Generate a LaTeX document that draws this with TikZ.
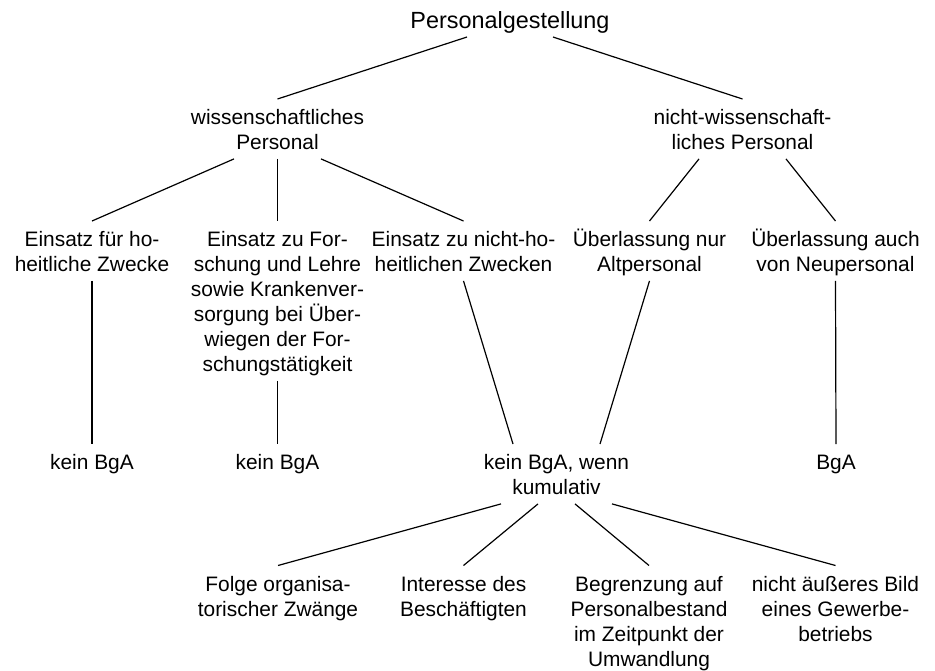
\documentclass[tikz,border=0pt]{standalone}
\usepackage{fontspec}
\setmainfont{Liberation Sans}
\newcommand{\tstr}{\rule{0pt}{24pt}}
\begin{document}
\begin{tikzpicture}[x=1pt,y=-1pt,
  lbl/.style={font=\fontsize{20.9}{25}\selectfont, align=center, inner xsep=0pt, inner ysep=1.5pt, anchor=north,
    execute at end node={\rule[-7.5pt]{0pt}{7.5pt}}},
  ttl/.style={font=\fontsize{23.4}{28}\selectfont, inner sep=0pt, anchor=base},
  conn/.style={line width=1.2pt}]
\fill[white] (0,0) rectangle (935,670);
\useasboundingbox (0,0) rectangle (935,670);
\node[ttl] (t) at (510,28) {Personalgestellung};
\node[lbl] (w) at (277.5,99) {\tstr wissenschaftliches\\Personal};
\node[lbl] (n) at (742.5,99) {\tstr nicht-wissenschaft-\\liches Personal};
\node[lbl] (c1) at (92,221) {\tstr Einsatz für ho-\\heitliche Zwecke};
\node[lbl] (c2) at (277.5,221) {\tstr Einsatz zu For-\\schung und Lehre\\sowie Krankenver-\\sorgung bei Über-\\wiegen der For-\\schungstätigkeit};
\node[lbl] (c3) at (463.5,221) {\tstr Einsatz zu nicht-ho-\\heitlichen Zwecken};
\node[lbl] (c4) at (649.5,221) {\tstr Überlassung nur\\Altpersonal};
\node[lbl] (c5) at (835.5,221) {\tstr Überlassung auch\\von Neupersonal};
\node[lbl] (k1) at (92,444) {\tstr kein BgA};
\node[lbl] (k2) at (277.5,444) {\tstr kein BgA};
\node[lbl] (k3) at (556.5,444) {\tstr kein BgA, wenn\\kumulativ};
\node[lbl] (k4) at (836,444) {\tstr BgA};
\node[lbl] (f1) at (278,565.5) {\tstr Folge organisa-\\torischer Zwänge};
\node[lbl] (f2) at (463.5,565.5) {\tstr Interesse des\\Beschäftigten};
\node[lbl] (f3) at (649,565.5) {\tstr Begrenzung auf\\Personalbestand\\im Zeitpunkt der\\Umwandlung};
\node[lbl] (f4) at (835.5,565.5) {\tstr nicht äußeres Bild\\eines Gewerbe-\\betriebs};
\draw[conn] ([xshift=-43pt,yshift=-9pt]t.base) -- (w.north);
\draw[conn] ([xshift=43pt,yshift=-9pt]t.base) -- (n.north);
\draw[conn] ([xshift=-43.5pt]w.south) -- (c1.north);
\draw[conn] (w.south) -- (c2.north);
\draw[conn] ([xshift=43.5pt]w.south) -- (c3.north);
\draw[conn] ([xshift=-43.5pt]n.south) -- (c4.north);
\draw[conn] ([xshift=43.5pt]n.south) -- (c5.north);
\draw[conn] (c1.south) -- (k1.north);
\draw[conn] (c2.south) -- (k2.north);
\draw[conn] (c5.south) -- (k4.north);
\draw[conn] (c3.south) -- ([xshift=-43.5pt]k3.north);
\draw[conn] (c4.south) -- ([xshift=43.5pt]k3.north);
\draw[conn] ([xshift=-55.5pt]k3.south) -- (f1.north);
\draw[conn] ([xshift=-18.5pt]k3.south) -- (f2.north);
\draw[conn] ([xshift=18.5pt]k3.south) -- (f3.north);
\draw[conn] ([xshift=55.5pt]k3.south) -- (f4.north);
\end{tikzpicture}
\end{document}
